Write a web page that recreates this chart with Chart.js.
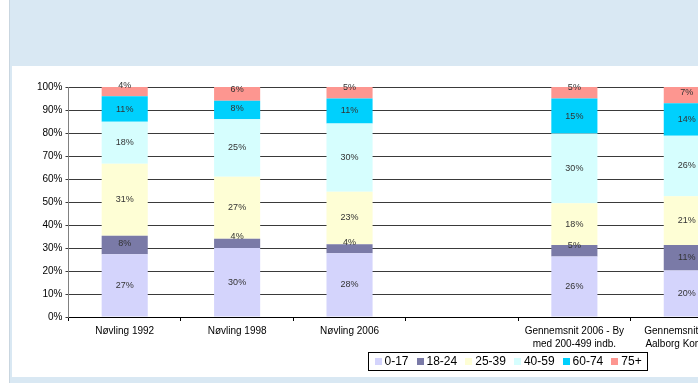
<!DOCTYPE html>
<html>
<head>
<meta charset="utf-8">
<script src="https://cdn.jsdelivr.net/npm/chart.js@4.4.1/dist/chart.umd.min.js"></script>
<style>
  html, body { margin: 0; padding: 0; background: #fff; overflow: hidden; width: 698px; height: 383px; }
  #frame { position: absolute; left: 9px; top: 0; width: 700px; height: 383px; background: #d9e8f3; border-left: 1px solid #c9d6e0; }
  #panel { position: absolute; left: 12px; top: 66px; width: 760px; height: 311px; background: #fff; }
  canvas { display: block; }
</style>
</head>
<body>
<div id="frame"></div>
<div id="panel"><canvas id="chart" width="748" height="311"></canvas></div>
<script>
// age distribution per area, in percent (one slot left empty as a spacer)
const categories = ['Nøvling 1992', 'Nøvling 1998', 'Nøvling 2006', '',
  ['Gennemsnit 2006 - By', 'med 200-499 indb.'], ['Gennemsnit 2006 -', 'Aalborg Kommune']];
const ageGroups = ['0-17', '18-24', '25-39', '40-59', '60-74', '75+'];
const age0to17  = [27, 30, 28, null, 26, 20];
const age18to24 = [8, 4, 4, null, 5, 11];
const age25to39 = [31, 27, 23, null, 18, 21];
const age40to59 = [18, 25, 30, null, 30, 26];
const age60to74 = [11, 8, 11, null, 15, 14];
const age75plus = [4, 6, 5, null, 5, 7];
const yTicks = [0, 10, 20, 30, 40, 50, 60, 70, 80, 90, 100];

const series = [age0to17, age18to24, age25to39, age40to59, age60to74, age75plus];
const colors = ['#d4d4fc', '#7a7aa7', '#fefed5', '#d6fefe', '#00d0fd', '#fd9690'];
const FONT = '"Liberation Sans", Arial, sans-serif';

// each column is scaled to 100 % like the original stacked chart
const totals = categories.map((c, j) => series.reduce((s, arr) => s + (arr[j] || 0), 0));

const datasets = series.map((arr, i) => ({
  label: ageGroups[i],
  shares: arr,
  data: arr.map((v, j) => v == null ? null : v / totals[j] * 100),
  backgroundColor: colors[i],
  borderWidth: 0,
  categoryPercentage: 1,
  barPercentage: 0.41
}));

// percent labels inside the segments; short segments keep the label up from the base
const segmentLabels = {
  id: 'segmentLabels',
  afterDatasetsDraw(chart) {
    const ctx = chart.ctx;
    ctx.save();
    ctx.font = '9px ' + FONT;
    ctx.fillStyle = '#333';
    ctx.textAlign = 'center';
    ctx.textBaseline = 'middle';
    chart.data.datasets.forEach((ds, i) => {
      chart.getDatasetMeta(i).data.forEach((bar, j) => {
        const v = ds.shares[j];
        if (v == null) return;
        const y = Math.min((bar.y + bar.base) / 2, bar.base - 11);
        ctx.fillText(v + '%', bar.x, y);
      });
    });
    ctx.restore();
  }
};

// boxed legend under the axis
const boxLegend = {
  id: 'boxLegend',
  afterDraw(chart, args, opts) {
    const ctx = chart.ctx;
    ctx.save();
    ctx.font = '12px ' + FONT;
    ctx.textBaseline = 'middle';
    const sq = 7, gapText = 3, gapItem = 8, padX = 6;
    const items = chart.data.datasets.map(ds => ({ label: ds.label, color: ds.backgroundColor, w: ctx.measureText(ds.label).width }));
    const inner = items.reduce((s, it) => s + sq + gapText + it.w, 0) + gapItem * (items.length - 1);
    const boxW = inner + padX * 2;
    const left = Math.round(opts.centerX - boxW / 2) + 0.5;
    const top = Math.round(chart.chartArea.bottom + opts.offsetY) + 0.5;
    ctx.strokeStyle = '#000';
    ctx.lineWidth = 1;
    ctx.strokeRect(left, top, Math.round(boxW), opts.height);
    let x = left + padX;
    const cy = top + opts.height / 2;
    items.forEach(it => {
      ctx.fillStyle = it.color;
      ctx.fillRect(Math.round(x), Math.round(cy - 3.5), sq, sq);
      x += sq + gapText;
      ctx.fillStyle = '#000';
      ctx.fillText(it.label, x, cy + 0.5);
      x += it.w + gapItem;
    });
    ctx.restore();
  }
};

new Chart(document.getElementById('chart'), {
  type: 'bar',
  data: { labels: categories, datasets },
  plugins: [segmentLabels, boxLegend],
  options: {
    responsive: false,
    animation: false,
    devicePixelRatio: 1,
    layout: { padding: { top: 21, right: 17, left: 0, bottom: 0 } },
    plugins: {
      legend: { display: false },
      tooltip: { enabled: false },
      boxLegend: { centerX: 495.5, offsetY: 35, height: 18 }
    },
    scales: {
      x: {
        stacked: true,
        afterFit: s => { s.height = 60; },
        border: { color: '#000' },
        grid: { display: true, drawOnChartArea: false, drawTicks: true, tickLength: 4, color: '#000', offset: true },
        ticks: { autoSkip: false, maxRotation: 0, minRotation: 0, padding: 4, color: '#000',
          font: { family: FONT, size: 10, lineHeight: 1.3 } }
      },
      y: {
        stacked: true,
        min: 0,
        max: 100,
        afterFit: s => { s.width = 56.5; },
        afterBuildTicks: s => { s.ticks = yTicks.map(v => ({ value: v })); },
        border: { color: '#808080' },
        grid: { color: '#3a3a3a', tickLength: 3 },
        ticks: { padding: 3, color: '#000', font: { family: FONT, size: 10 }, callback: v => v + '%' }
      }
    }
  }
});
</script>
</body>
</html>
